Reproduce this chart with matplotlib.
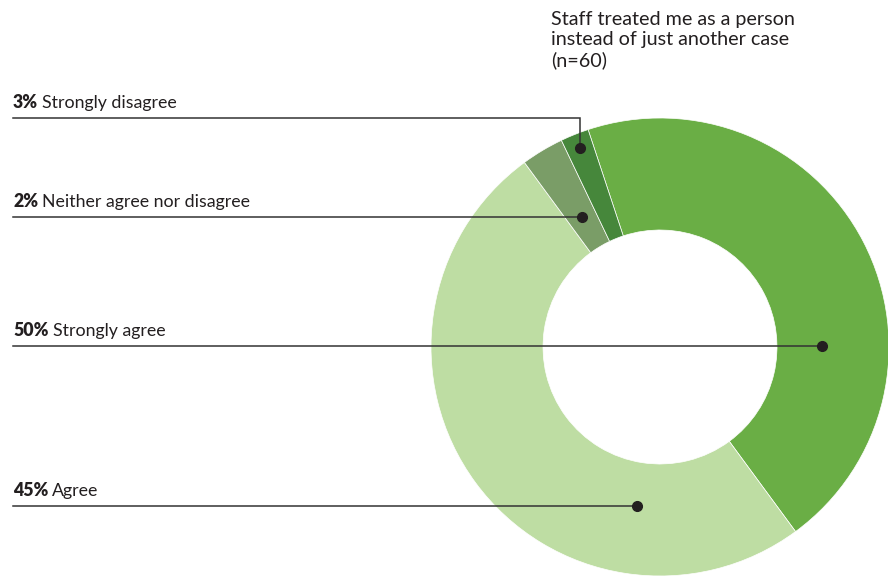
import matplotlib
matplotlib.use("Agg")
import matplotlib.pyplot as plt
import numpy as np

plt.rcParams['font.family'] = ['Lato', 'DejaVu Sans']

# slice sizes as drawn, clockwise from the top
slice_names = ['Strongly agree', 'Agree', 'Neither agree nor disagree', 'Strongly disagree']
slice_sizes = [45, 50, 3, 2]
slice_colors = ['#6aae45', '#bedda3', '#7a9d67', '#46873b']

# label texts (top to bottom)
label_pct = ['3%', '2%', '50%', '45%']
label_text = ['Strongly disagree', 'Neither agree nor disagree', 'Strongly agree', 'Agree']
label_slice = [3, 2, 0, 1]

title = 'Staff treated me as a person\ninstead of just another case\n(n=60)'

W, H = 888, 580
fig = plt.figure(figsize=(W / 100, H / 100), dpi=100)
ax = fig.add_axes([0, 0, 1, 1])

cx, cy = 660, H - 347
R, r_in = 229, 117
start = 108.3

wedges, _ = ax.pie(slice_sizes, colors=slice_colors, startangle=start, counterclock=False,
                   radius=R, center=(cx, cy),
                   wedgeprops=dict(width=R - r_in, edgecolor='white', linewidth=0.5))
ax.set_xlim(0, W)
ax.set_ylim(0, H)
ax.axis('off')

# where each leader line ends: (angle clockwise from top in deg, radius); None = middle of slice
dot_pos = [(None, 214), (None, 151), (89.6, 162), (188.2, 161)]
line_y = [H - 118, None, None, None]  # first label: line runs above, then drops to the dot
x0 = 13

total = sum(slice_sizes)
renderer = fig.canvas.get_renderer()
for i in range(len(label_pct)):
    s = label_slice[i]
    ang, rad = dot_pos[i]
    if ang is None:
        t_start = (90 - start) + sum(slice_sizes[:s]) / total * 360
        t_end = t_start + slice_sizes[s] / total * 360
        ang = (t_start + t_end) / 2
    th = np.deg2rad(ang)
    dx = cx + rad * np.sin(th)
    dy = cy + rad * np.cos(th)
    if line_y[i] is not None:
        ly = line_y[i]
        ax.plot([x0, dx, dx], [ly, ly, dy], color='#333333', lw=1.1, solid_joinstyle='miter')
    else:
        ly = dy
        ax.plot([x0, dx], [ly, ly], color='#333333', lw=1.1)
    ax.plot(dx, dy, 'o', color='#231f20', ms=7)
    t = ax.text(x0, ly + 10, label_pct[i], fontsize=12.8, fontweight='heavy', color='#231f20',
                ha='left', va='baseline')
    bb = t.get_window_extent(renderer)
    ax.text(bb.x1 + 4, ly + 10, label_text[i], fontsize=12.8, color='#231f20',
            ha='left', va='baseline')

ax.text(551, H - 11, title, fontsize=14.2, color='#231f20', ha='left', va='top', linespacing=1.22)

fig.savefig('out.png', dpi=100)
